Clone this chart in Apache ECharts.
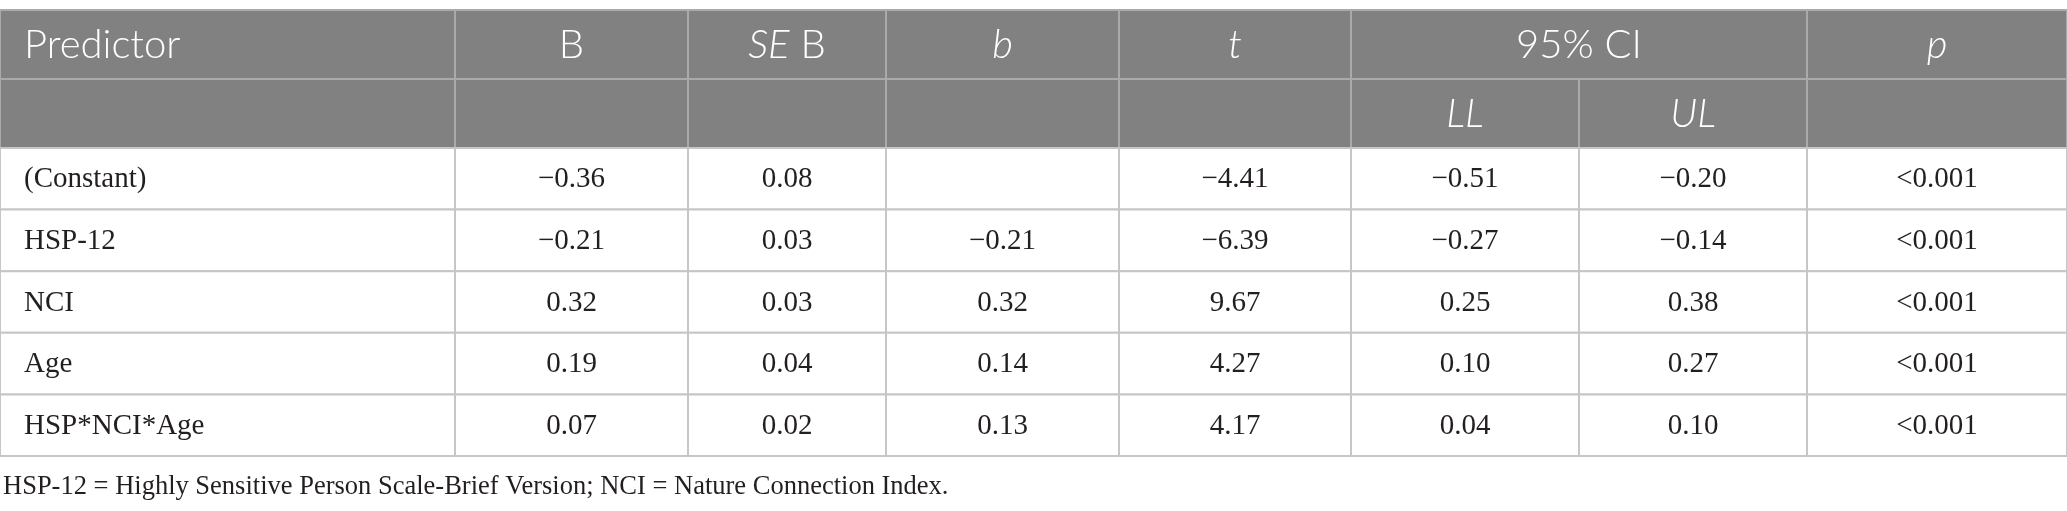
<!DOCTYPE html>
<html>
<head>
<meta charset="utf-8">
<script src="https://cdn.jsdelivr.net/npm/echarts@6/dist/echarts.min.js"></script>
<style>
  html, body { margin: 0; padding: 0; background: #fff; }
  #chart { width: 2067px; height: 511px; }
</style>
</head>
<body>
<div id="chart"></div>
<script>
// table content
const headerTop = ["Predictor", "B", "{i|SE} B", "{i|b}", "{i|t}", "95% CI", "{i|p}"];
const headerSub = ["{i|LL}", "{i|UL}"];
const predictors = ["(Constant)", "HSP-12", "NCI", "Age", "HSP*NCI*Age"];
const bValues = [-0.36, -0.21, 0.32, 0.19, 0.07];
const seValues = [0.08, 0.03, 0.03, 0.04, 0.02];
const betaValues = [null, -0.21, 0.32, 0.14, 0.13];
const tValues = [-4.41, -6.39, 9.67, 4.27, 4.17];
const llValues = [-0.51, -0.27, 0.25, 0.10, 0.04];
const ulValues = [-0.20, -0.14, 0.38, 0.27, 0.10];
const pValues = ["<0.001", "<0.001", "<0.001", "<0.001", "<0.001"];
const footnote = "HSP-12 = Highly Sensitive Person Scale-Brief Version; NCI = Nature Connection Index.";

// layout (in page pixels, mapped through value axes)
const colEdges = [0, 455, 688, 886, 1119, 1351, 1579, 1807, 2067];
const rowEdges = [10, 79, 148, 209.6, 271.2, 332.8, 394.4, 456];

function fmt(v) {
  if (v === null || v === undefined) return "";
  if (typeof v === "string") return v;
  return (v < 0 ? "\u2212" : "") + Math.abs(v).toFixed(2);
}

// build cells: [x0, y0, x1, y1], with text and kind alongside
const cells = [];
const cellInfo = [];
function addCell(c0, c1, r0, r1, text, kind, align) {
  cells.push([colEdges[c0], rowEdges[r0], colEdges[c1], rowEdges[r1]]);
  cellInfo.push({ text: text, kind: kind, align: align || "center" });
}

// header row 1
addCell(0, 1, 0, 1, headerTop[0], "head", "left");
for (let i = 1; i <= 4; i++) addCell(i, i + 1, 0, 1, headerTop[i], "head");
addCell(5, 7, 0, 1, headerTop[5], "head");
addCell(7, 8, 0, 1, headerTop[6], "head");
// header row 2
for (let i = 0; i < 8; i++) {
  let txt = "";
  if (i === 5) txt = headerSub[0];
  if (i === 6) txt = headerSub[1];
  addCell(i, i + 1, 1, 2, txt, "head");
}
// body
const columns = [bValues, seValues, betaValues, tValues, llValues, ulValues, pValues];
predictors.forEach(function (name, r) {
  addCell(0, 1, r + 2, r + 3, name, "body", "left");
  columns.forEach(function (col, c) {
    addCell(c + 1, c + 2, r + 2, r + 3, fmt(col[r]), "body");
  });
});

const chart = echarts.init(document.getElementById("chart"), null, { renderer: "canvas" });

chart.setOption({
  animation: false,
  backgroundColor: "#ffffff",
  grid: { left: 0, right: 0, top: 0, bottom: 0 },
  xAxis: { type: "value", min: 0, max: 2067, show: false },
  yAxis: { type: "value", min: 0, max: 511, inverse: true, show: false },
  series: [
    {
      type: "custom",
      data: cells,
      renderItem: function (params, api) {
        const info = cellInfo[params.dataIndex];
        const p0 = api.coord([api.value(0), api.value(1)]);
        const p1 = api.coord([api.value(2), api.value(3)]);
        const isHead = info.kind === "head";
        const w = p1[0] - p0[0];
        const h = p1[1] - p0[1];
        const tx = info.align === "left" ? p0[0] + 24 : p0[0] + w / 2;
        return {
          type: "group",
          children: [
            {
              type: "rect",
              shape: { x: p0[0], y: p0[1], width: w, height: h },
              style: {
                fill: isHead ? "#808180" : "#ffffff",
                stroke: isHead ? "#a9aaa9" : "#c6c6c6",
                lineWidth: 2
              }
            },
            {
              type: "text",
              x: tx,
              y: p0[1] + h / 2 + 1,
              style: {
                text: info.text,
                fill: isHead ? "#ffffff" : "#231f20",
                font: isHead ? "300 40px Lato" : "29px 'Liberation Serif'",
                align: info.align,
                verticalAlign: "middle",
                rich: {
                  i: {
                    fontStyle: "italic",
                    fontFamily: "Lato",
                    fontWeight: 300,
                    fontSize: 40,
                    fill: "#ffffff"
                  }
                }
              }
            }
          ]
        };
      }
    }
  ],
  graphic: [
    {
      type: "text",
      left: 3,
      top: 474,
      style: {
        text: footnote,
        fill: "#231f20",
        font: "26.5px 'Liberation Serif'"
      }
    }
  ]
});
</script>
</body>
</html>
